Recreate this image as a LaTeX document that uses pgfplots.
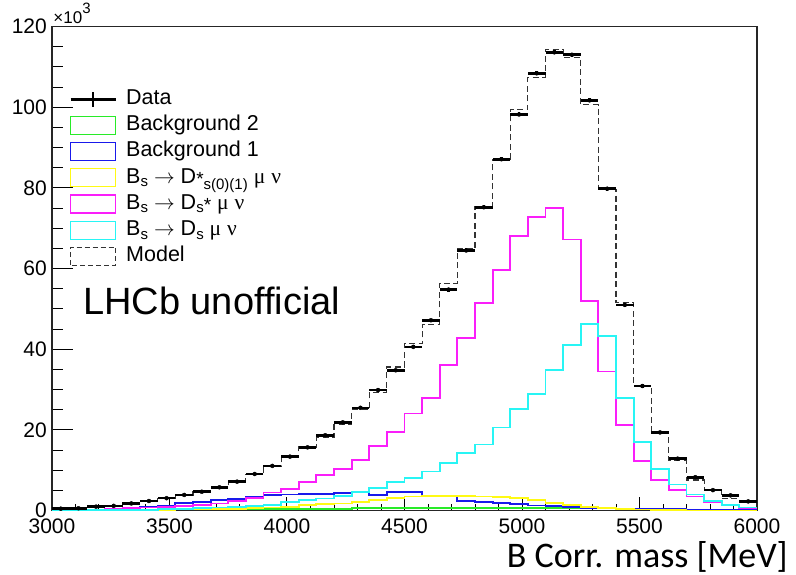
\documentclass[border=0pt]{standalone}
\usepackage{fontspec}
\setmainfont{Liberation Sans}
\newfontfamily\grk{Liberation Serif}
\newfontfamily\calib{Carlito}
\usepackage{pgfplots}
\usepackage{pgfplotstable}
\pgfplotsset{compat=1.18}

\definecolor{cG}{RGB}{40,235,40}
\definecolor{cB}{RGB}{25,25,235}
\definecolor{cY}{RGB}{255,250,20}
\definecolor{cM}{RGB}{250,30,250}
\definecolor{cC}{RGB}{40,245,245}

% histogram contents (x10^3 entries), left bin edges, 75 MeV bins
\pgfplotstableread{
x     bgtwo bgone dsss  dsst  ds    model
3000  0.10  0.15  0.05  0.15  0.05  0.5
3075  0.10  0.20  0.05  0.20  0.05  0.7
3150  0.15  0.30  0.10  0.30  0.10  1.0
3225  0.15  0.40  0.15  0.40  0.15  1.3
3300  0.20  0.70  0.20  0.60  0.20  1.8
3375  0.20  0.90  0.20  0.80  0.25  2.3
3450  0.30  1.30  0.25  1.00  0.35  3.1
3525  0.30  1.90  0.30  1.20  0.45  3.9
3600  0.35  2.20  0.35  1.50  0.60  4.7
3675  0.40  2.60  0.40  1.80  0.80  5.7
3750  0.40  2.90  0.50  2.40  1.00  7.1
3825  0.50  3.30  0.60  3.10  1.20  9.0
3900  0.50  3.90  0.80  4.50  1.50  11.1
3975  0.50  4.00  0.90  5.40  2.10  13.2
4050  0.50  4.10  1.40  7.20  2.60  15.8
4125  0.50  4.10  1.70  8.80  3.00  18.2
4200  0.50  4.30  1.80  10.30 3.70  21.3
4275  0.60  4.60  2.20  12.50 4.70  25.0
4350  0.70  3.90  2.60  16.10 5.70  29.2
4425  0.70  4.70  3.20  19.60 7.20  35.6
4500  0.70  4.60  3.50  24.10 8.20  41.4
4575  0.70  3.60  3.60  28.00 9.70  46.2
4650  0.70  3.50  3.70  36.10 11.90 56.4
4725  0.70  2.40  3.60  42.80 14.20 64.9
4800  0.70  2.20  3.50  51.50 16.40 75.4
4875  0.70  2.00  3.30  59.70 20.60 87.1
4950  0.70  1.70  3.10  68.00 25.30 99.4
5025  0.70  1.30  2.70  72.80 28.90 107.4
5100  0.70  1.20  2.00  75.10 34.80 114.2
5175  0.70  1.00  1.50  67.20 41.00 112.4
5250  0.60  0.70  1.00  51.90 46.20 100.6
5325  0.60  0.60  0.70  34.50 43.20 79.6
5400  0.50  0.50  0.50  21.20 28.00 51.5
5475  0.40  0.40  0.30  12.30 17.10 30.9
5550  0.30  0.40  0.20  7.70  10.40 19.6
5625  0.30  0.35  0.10  5.10  6.50  12.5
5700  0.25  0.30  0.05  3.50  4.00  7.6
5775  0.20  0.30  0.05  2.20  2.40  5.0
5850  0.20  0.30  0.00  1.40  1.50  3.1
5925  0.20  0.30  0.00  0.70  0.80  2.3
6000  0.20  0.30  0.00  0.70  0.80  2.3
}\hist

% data points at bin centres with statistical errors (x10^3)
\pgfplotstableread{
x       d      e
3037.5  0.5    0.2
3112.5  0.6    0.2
3187.5  1.0    0.2
3262.5  1.2    0.2
3337.5  1.8    0.2
3412.5  2.4    0.2
3487.5  3.1    0.2
3562.5  3.9    0.2
3637.5  4.7    0.2
3712.5  5.8    0.3
3787.5  7.2    0.3
3862.5  9.1    0.3
3937.5  11.1   0.3
4012.5  13.4   0.3
4087.5  15.7   0.3
4162.5  18.7   0.3
4237.5  21.9   0.4
4312.5  25.5   0.4
4387.5  29.9   0.4
4462.5  34.8   0.4
4537.5  40.6   0.4
4612.5  47.2   0.4
4687.5  54.8   0.5
4762.5  64.5   0.5
4837.5  75.2   0.5
4912.5  87.1   0.5
4987.5  98.2   0.5
5062.5  108.4  0.5
5137.5  113.6  0.5
5212.5  113.0  0.5
5287.5  101.7  0.5
5362.5  79.8   0.5
5437.5  51.0   0.5
5512.5  30.9   0.4
5587.5  19.4   0.3
5662.5  12.9   0.3
5737.5  8.3    0.3
5812.5  5.1    0.3
5887.5  3.8    0.2
5962.5  2.3    0.2
}\data

\newcommand\lsub[1]{\raisebox{-3.3pt}{\fontsize{15}{15}\selectfont #1}}
\newcommand\lsubb[1]{\raisebox{-6.5pt}{\fontsize{15}{15}\selectfont #1}}
\newcommand\lsup[1]{\raisebox{-2pt}{\fontsize{19}{19}\selectfont #1}}
\newcommand\arr{\ensuremath{\rightarrow}}

\begin{document}
\begin{tikzpicture}
\useasboundingbox (-52pt,-64.3pt) rectangle (744pt,510.7pt);
\begin{axis}[
  at={(0pt,0pt)}, anchor=south west,
  scale only axis, width=705pt, height=484.2pt,
  xmin=3000, xmax=6000, ymin=0, ymax=120,
  xtick={3000,3500,...,6000}, ytick={0,20,...,120},
  minor x tick num=4, minor y tick num=3,
  tick pos=left, tick align=inside,
  major x tick style={/pgfplots/major tick length=14pt},
  minor x tick style={/pgfplots/minor tick length=7pt},
  major y tick style={/pgfplots/major tick length=21pt},
  minor y tick style={/pgfplots/minor tick length=11pt},
  every tick/.style={black, line width=1pt},
  axis line style={line width=1.3pt, black!85},
  tick label style={font=\fontsize{21}{21}\selectfont},
  /pgf/number format/assume math mode=true,
  /pgf/number format/1000 sep={},
  scaled x ticks=false, scaled y ticks=false,
  xticklabel style={inner sep=0pt, yshift=-7.5pt},
  yticklabel style={inner sep=0pt, xshift=-5pt},
]
\addplot[const plot, cG, line width=1.8pt] table[x=x, y=bgtwo]{\hist};
\addplot[const plot, cB, line width=1.8pt] table[x=x, y=bgone]{\hist};
\addplot[const plot, cY, line width=1.8pt] table[x=x, y=dsss]{\hist};
\addplot[const plot, cM, line width=1.8pt] table[x=x, y=dsst]{\hist};
\addplot[const plot, cC, line width=1.8pt] table[x=x, y=ds]{\hist};
\addplot[const plot, black!80, line width=1.2pt, dash pattern=on 6pt off 3.5pt] table[x=x, y=model]{\hist};
\addplot[black, only marks, mark=none,
  error bars/.cd, x dir=both, x fixed=37.5, y dir=both, y explicit,
  error mark=none, error bar style={line width=2.6pt}]
  table[x=x, y=d, y error=e]{\data};
\end{axis}

% axis multiplier
\node[anchor=base west, inner sep=0pt, font=\fontsize{17}{17}\selectfont]
  at (1.3pt,486.7pt) {×10\raisebox{10pt}{\fontsize{15}{15}\selectfont 3}};

% legend
\begin{scope}[font=\fontsize{21.5}{21.5}\selectfont]
  \draw[black, line width=2.6pt] (18.7pt,411.2pt) -- (63.7pt,411.2pt);
  \draw[black, line width=1.6pt] (41.2pt,403.7pt) -- (41.2pt,418.7pt);
  \node[anchor=base west, inner sep=0pt] at (74pt,405.7pt) {Data};
  \draw[cG, line width=1.4pt] (18.7pt,376.3pt) rectangle (63.7pt,394.3pt);
  \node[anchor=base west, inner sep=0pt] at (74pt,379.8pt) {Background 2};
  \draw[cB, line width=1.4pt] (18.7pt,350.2pt) rectangle (63.7pt,368.2pt);
  \node[anchor=base west, inner sep=0pt] at (74pt,353.7pt) {Background 1};
  \draw[cY, line width=1.4pt] (18.7pt,324pt) rectangle (63.7pt,342pt);
  \node[anchor=base west, inner sep=0pt] at (74pt,327.5pt)
    {B\lsub{s} \arr{} D\lsup{*}\lsubb{s(0)(1)} {\grk μ} {\grk ν}};
  \draw[cM, line width=1.4pt] (18.7pt,297.7pt) rectangle (63.7pt,315.7pt);
  \node[anchor=base west, inner sep=0pt] at (74pt,301.2pt)
    {B\lsub{s} \arr{} D\lsub{s}\lsup{*} {\grk μ} {\grk ν}};
  \draw[cC, line width=1.4pt] (18.7pt,271.4pt) rectangle (63.7pt,289.4pt);
  \node[anchor=base west, inner sep=0pt] at (74pt,274.9pt)
    {B\lsub{s} \arr{} D\lsub{s} {\grk μ} {\grk ν}};
  \draw[black!80, line width=1.1pt, dash pattern=on 5pt off 3pt] (18.7pt,245.5pt) rectangle (63.7pt,263.5pt);
  \node[anchor=base west, inner sep=0pt] at (74pt,249pt) {Model};
\end{scope}

\node[anchor=base west, inner sep=0pt, font=\fontsize{38}{38}\selectfont]
  at (31pt,195.7pt) {LHCb unofficial};
\node[anchor=base east, inner sep=0pt, font=\calib\fontsize{36}{36}\selectfont]
  at (736pt,-56.5pt) {B Corr. mass [MeV]};
\end{tikzpicture}
\end{document}
